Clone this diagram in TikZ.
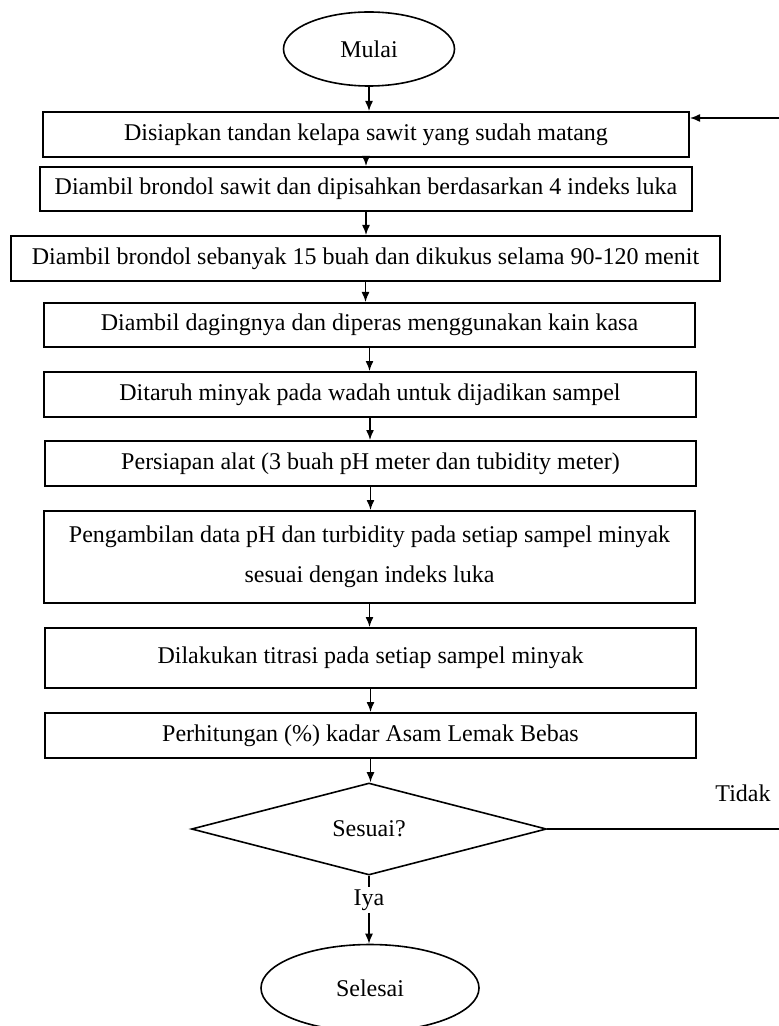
\documentclass[tikz,border=0pt]{standalone}
\usepackage{fontspec}
\setmainfont{Liberation Serif}
\usetikzlibrary{shapes.geometric, arrows.meta}

\begin{document}
\begin{tikzpicture}[
    x=0.5pt, y=-0.5pt,
    every node/.style={font=\fontsize{12pt}{14pt}\selectfont},
    >={Latex[length=5pt, width=4pt]},
    stepbox/.style={draw, line width=1pt, inner sep=0pt, minimum width=325.5pt, minimum height=22.5pt},
    terminal/.style={draw, ellipse, line width=0.8pt, inner sep=0pt},
    decision/.style={draw, diamond, line width=0.8pt, inner sep=0pt},
    flow/.style={->, line width=0.7pt},
]

% === Page frame (pixel grid, y downwards) ===
\useasboundingbox (0,0) rectangle (778,1026);

% === Start ===
\node[terminal, minimum width=85.5pt, minimum height=37pt] (mulai) at (369,49) {Mulai};

% === Process steps ===
\node[stepbox, minimum width=323pt] (box1) at (366,134.5)
    {Disiapkan tandan kelapa sawit yang sudah matang};
\node[stepbox, minimum width=326pt, minimum height=22pt] (box2) at (366,189)
    {Diambil brondol sawit dan dipisahkan berdasarkan 4 indeks luka};
\node[stepbox, minimum width=354.5pt] (box3) at (365.5,258.5)
    {Diambil brondol sebanyak 15 buah dan dikukus selama 90-120 menit};
\node[stepbox, minimum height=22pt] (box4) at (369.5,325)
    {Diambil dagingnya dan diperas menggunakan kain kasa};
\node[stepbox, minimum width=326pt] (box5) at (370,394.5)
    {Ditaruh minyak pada wadah untuk dijadikan sampel};
\node[stepbox] (box6) at (370.5,463.5)
    {Persiapan alat (3 buah pH meter dan tubidity meter)};
\node[stepbox, minimum height=46pt, align=center, font=\fontsize{12pt}{20pt}\selectfont] (box7) at (369.5,557)
    {Pengambilan data pH dan turbidity pada setiap sampel minyak\\sesuai dengan indeks luka};
\node[stepbox, minimum height=30pt] (box8) at (370.5,658)
    {Dilakukan titrasi pada setiap sampel minyak};
\node[stepbox] (box9) at (370.5,735.5)
    {Perhitungan (\%) kadar Asam Lemak Bebas};

% === Decision ===
\node[decision, minimum width=177.5pt, minimum height=46pt] (cek) at (369,829) {Sesuai?};
\node (tidak) at (743,793) {Tidak};
\node[fill=white, inner sep=1pt] (iya) at (369,900) {Iya};

% === End ===
\node[terminal, minimum width=109pt, minimum height=43.5pt] (selesai) at (370,988) {Selesai};

% === Main flow ===
\foreach \a/\b in {mulai/box1, box1/box2, box2/box3, box3/box4, box4/box5,
                   box5/box6, box6/box7, box7/box8, box8/box9, box9/cek} {
    \draw[flow] (\a.south) -- (\a.south |- \b.north);
}
\draw[line width=0.7pt] (cek.south) -- (iya);
\draw[flow] (iya) -- (iya |- selesai.north);

% === Loop back (runs past the right page edge) ===
\coordinate (back) at (784,118);
\draw[flow] (cek.east) -- (cek.east -| back) -- (back) -- (back -| box1.east);

\end{tikzpicture}
\end{document}
